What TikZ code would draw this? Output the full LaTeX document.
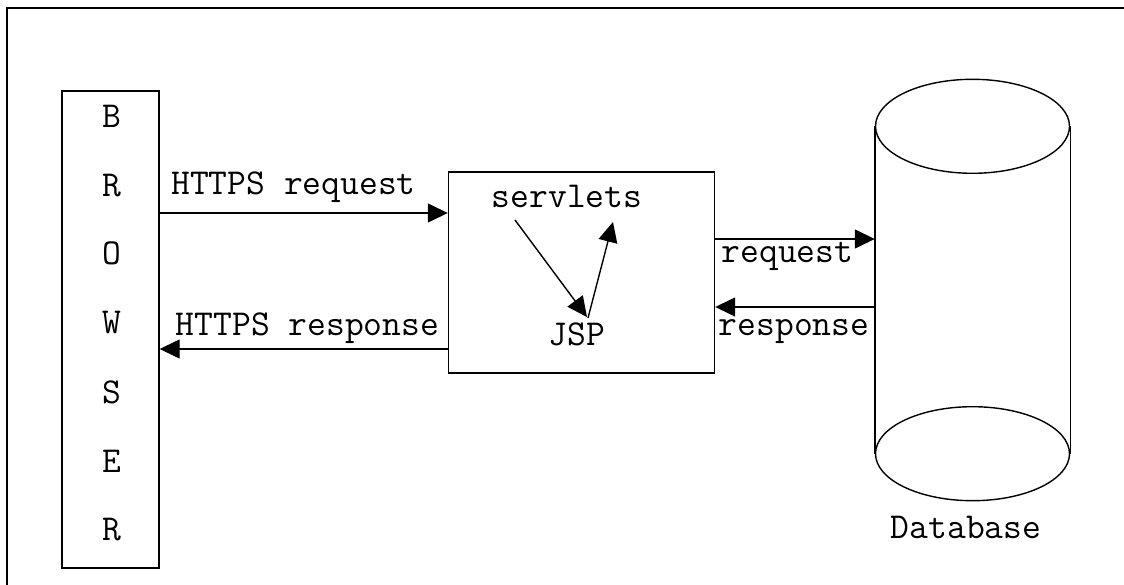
\documentclass[tikz,border=0pt]{standalone}
\usepackage{fontspec}
\usetikzlibrary{arrows.meta,calc}
\begin{document}
\begin{tikzpicture}[x=1pt,y=-1pt,
  line width=1.4pt,
  lbl/.style={inner sep=0pt,anchor=base,font=\ttfamily\fontsize{36.5}{40}\selectfont},
  box/.style={draw,rectangle,inner sep=0pt},
  arr/.style={-{Triangle[length=20pt,width=19pt]}}]
\useasboundingbox (0,0) rectangle (1124,585);
% outer frame (top and left visible)
\draw (7,585) -- (7,8) -- (1124,8);
% browser
\node[box,minimum width=97pt,minimum height=477pt] (browser) at (110.5,329.5) {};
\node[lbl] (b1) at (112,128) {B};
\node[lbl] (b2) at (112,197) {R};
\node[lbl] (b3) at (112,265) {O};
\node[lbl] (b4) at (112,333) {W};
\node[lbl] (b5) at (112,403) {S};
\node[lbl] (b6) at (112,472) {E};
\node[lbl] (b7) at (112,540) {R};
% server box
\node[box,minimum width=266pt,minimum height=201pt] (server) at (581.5,272.5) {};
\node[lbl] (servlets) at (567,208) {servlets};
\node[lbl] (jsp) at (577,345) {JSP};
\coordinate (s1) at (515,220);
\coordinate (j1) at (587,317);
\coordinate (j2) at (588,318);
\coordinate (s2) at (613,222);
\draw[arr] (s1) -- (j1);
\draw[arr] (j2) -- (s2);
% database cylinder
\node[inner sep=0pt,minimum width=194pt,minimum height=326pt] (db) at (972.5,290) {};
\draw (db.north west) -- (db.south west);
\draw (db.north east) -- (db.south east);
\draw (db.north) ellipse [x radius=97pt,y radius=47pt];
\draw (db.south) ellipse [x radius=97pt,y radius=47pt];
\node[lbl] (dblbl) at (966,538) {Database};
% connectors browser <-> server
\coordinate (hreq) at (0,213);
\coordinate (hres) at (0,349);
\draw[arr] (browser.east |- hreq) -- (server.west |- hreq);
\draw[arr] (server.west |- hres) -- (browser.east |- hres);
\node[lbl] (hreqlbl) at (293.5,195) {HTTPS request};
\node[lbl] (hreslbl) at (307.5,335) {HTTPS response};
% connectors server <-> db
\coordinate (dreq) at (0,239);
\coordinate (dres) at (0,307);
\draw[arr] (server.east |- dreq) -- (db.west |- dreq);
\draw[arr] (db.west |- dres) -- (server.east |- dres);
\node[lbl] (dreqlbl) at (787.5,263) {request};
\node[lbl] (dreslbl) at (794,335) {response};
\end{tikzpicture}
\end{document}
